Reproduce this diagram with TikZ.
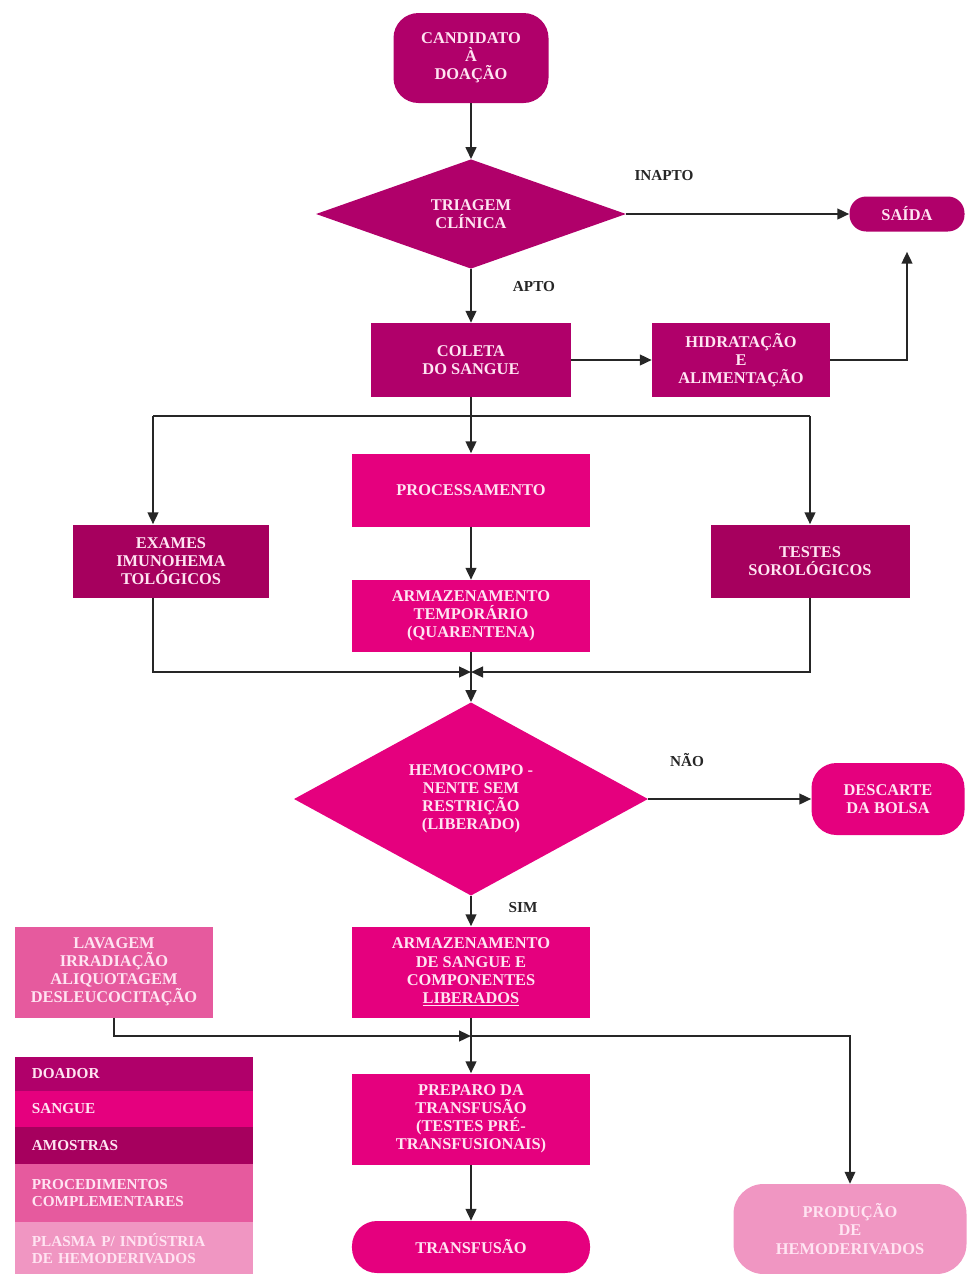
\documentclass[tikz,border=0pt]{standalone}
\usepackage{fontspec}
\setmainfont{Liberation Serif}
\usepackage{tikz}
\usetikzlibrary{arrows.meta,positioning,shapes.geometric}
\definecolor{doador}{HTML}{B0006A}
\definecolor{sangue}{HTML}{E5007E}
\definecolor{amostra}{HTML}{A6005E}
\definecolor{proced}{HTML}{E65A9E}
\definecolor{plasma}{HTML}{F096C2}
\definecolor{boxtext}{HTML}{FFE4F2}
\definecolor{linegray}{HTML}{262626}
\tikzset{
  flowbox/.style={rectangle,inner sep=2pt,align=center,text=boxtext,
    font=\bfseries\fontsize{14}{15.5}\selectfont},
  doadorbox/.style={flowbox,fill=doador},
  sanguebox/.style={flowbox,fill=sangue},
  amostrabox/.style={flowbox,fill=amostra},
  procbox/.style={flowbox,fill=proced},
  plasmabox/.style={flowbox,fill=plasma},
  decision/.style={diamond,inner sep=0pt,align=center,text=boxtext,
    font=\bfseries\fontsize{14}{15.5}\selectfont},
  legendrow/.style={rectangle,anchor=north west,inner xsep=0.5cm,inner ysep=0pt,
    text width=6.14cm,align=left,text=boxtext,
    font=\bfseries\fontsize{13}{14.5}\selectfont},
  branchlabel/.style={font=\bfseries\fontsize{13}{14}\selectfont,text=linegray},
  arrowline/.style={-{Triangle[length=3.6mm,width=3.2mm]},line width=2pt,draw=linegray},
  flowline/.style={line width=2pt,draw=linegray},
  thinline/.style={-{Triangle[length=3.6mm,width=3.2mm]},line width=1.2pt,draw=linegray}
}
\begin{document}
\begin{tikzpicture}[x=0.03cm,y=-0.03cm]
\useasboundingbox (0,0) rectangle (966,1274);

% upper part
\node[doadorbox,rounded corners=0.75cm,minimum width=4.65cm,minimum height=2.7cm]
  (cand) at (471,58) {CANDIDATO\\À\\DOAÇÃO};
\node[decision,fill=doador,minimum width=9.3cm,minimum height=3.24cm]
  (triagem) at (471,214) {TRIAGEM\\CLÍNICA};
\node[doadorbox,rounded corners=0.5cm,minimum width=3.45cm,minimum height=1.05cm]
  (saida) at (907,214) {SAÍDA};
\node[doadorbox,minimum width=5.97cm,minimum height=2.22cm]
  (coleta) at (471,360) {COLETA\\DO SANGUE};
\node[doadorbox,minimum width=5.34cm,minimum height=2.22cm]
  (hidrat) at (741,360) {HIDRATAÇÃO\\E\\ALIMENTAÇÃO};
\node[branchlabel] (inapto) at (664,176) {INAPTO};
\node[branchlabel] (apto) at (534,287) {APTO};

% middle part
\node[sanguebox,minimum width=7.14cm,minimum height=2.19cm]
  (process) at (471,490) {PROCESSAMENTO};
\node[sanguebox,minimum width=7.14cm,minimum height=2.16cm]
  (armtemp) at (471,616) {ARMAZENAMENTO\\TEMPORÁRIO\\(QUARENTENA)};
\node[amostrabox,minimum width=5.85cm,minimum height=2.19cm]
  (exames) at (171,561) {EXAMES\\IMUNOHEMA\\TOLÓGICOS};
\node[amostrabox,minimum width=5.97cm,minimum height=2.19cm]
  (testes) at (810,561) {TESTES\\SOROLÓGICOS};
\node[decision,fill=sangue,minimum width=10.62cm,minimum height=5.34cm]
  (hemo) at (471,799) {HEMOCOMPO -\\NENTE SEM\\RESTRIÇÃO\\(LIBERADO)};
\node[sanguebox,rounded corners=0.75cm,minimum width=4.59cm,minimum height=2.16cm]
  (descarte) at (888,799) {DESCARTE\\DA BOLSA};
\node[branchlabel] (nao) at (687,760) {NÃO};
\node[branchlabel] (sim) at (523,908) {SIM};

% lower part
\node[sanguebox,minimum width=7.14cm,minimum height=2.73cm]
  (liber) at (471,972) {ARMAZENAMENTO\\DE SANGUE E\\COMPONENTES\\\underline{LIBERADOS}};
\node[procbox,minimum width=5.94cm,minimum height=2.73cm]
  (lavagem) at (114,972) {LAVAGEM\\IRRADIAÇÃO\\ALIQUOTAGEM\\DESLEUCOCITAÇÃO};
\node[sanguebox,minimum width=7.14cm,minimum height=2.73cm]
  (preparo) at (471,1119) {PREPARO DA\\TRANSFUSÃO\\(TESTES PRÉ-\\TRANSFUSIONAIS)};
\node[sanguebox,rounded corners=0.75cm,minimum width=7.14cm,minimum height=1.56cm]
  (transf) at (471,1247) {TRANSFUSÃO};
\node[plasmabox,rounded corners=0.9cm,minimum width=6.99cm,minimum height=2.7cm]
  (producao) at (850,1229) {PRODUÇÃO\\DE\\HEMODERIVADOS};

% legend
\node[legendrow,fill=doador,minimum height=1.0cm] (legdoador) at (15,1057) {DOADOR};
\node[legendrow,fill=sangue,minimum height=1.09cm,below=-0.4pt of legdoador] (legsangue) {SANGUE};
\node[legendrow,fill=amostra,minimum height=1.12cm,below=-0.4pt of legsangue] (legamostra) {AMOSTRAS};
\node[legendrow,fill=proced,minimum height=1.72cm,below=-0.4pt of legamostra] (legproced) {PROCEDIMENTOS\\COMPLEMENTARES};
\node[legendrow,fill=plasma,minimum height=1.62cm,below=-0.4pt of legproced] (legplasma) {PLASMA P/ INDÚSTRIA\\DE HEMODERIVADOS};

% junction points
\coordinate (brleft) at (153,416);
\coordinate (brright) at (810,416);
\coordinate (join) at (471,672);
\coordinate (join2) at (471,1036);

% connectors
\draw[arrowline] (cand) -- (triagem);
\draw[arrowline] (triagem) -- (saida);
\draw[arrowline] (triagem) -- (coleta);
\draw[arrowline] (coleta) -- (hidrat);
\draw[arrowline,shorten >=0.6cm] (hidrat.east) -| (saida.south);
\draw[arrowline] (coleta) -- (process);
\draw[flowline] (brleft) -- (brright);
\draw[arrowline] (brleft) -- (brleft |- exames.north);
\draw[arrowline] (brright) -- (testes.north);
\draw[arrowline] (process) -- (armtemp);
\draw[arrowline] (brleft |- exames.south) |- (join);
\draw[arrowline] (testes.south) |- (join);
\draw[arrowline] (armtemp) -- (hemo);
\draw[arrowline] (hemo) -- (descarte);
\draw[arrowline] (hemo) -- (liber);
\draw[arrowline] (lavagem.south) |- (join2);
\draw[arrowline] (liber) -- (preparo);
\draw[thinline] (join2) -| (producao.north);
\draw[arrowline] (preparo) -- (transf);
\end{tikzpicture}
\end{document}
